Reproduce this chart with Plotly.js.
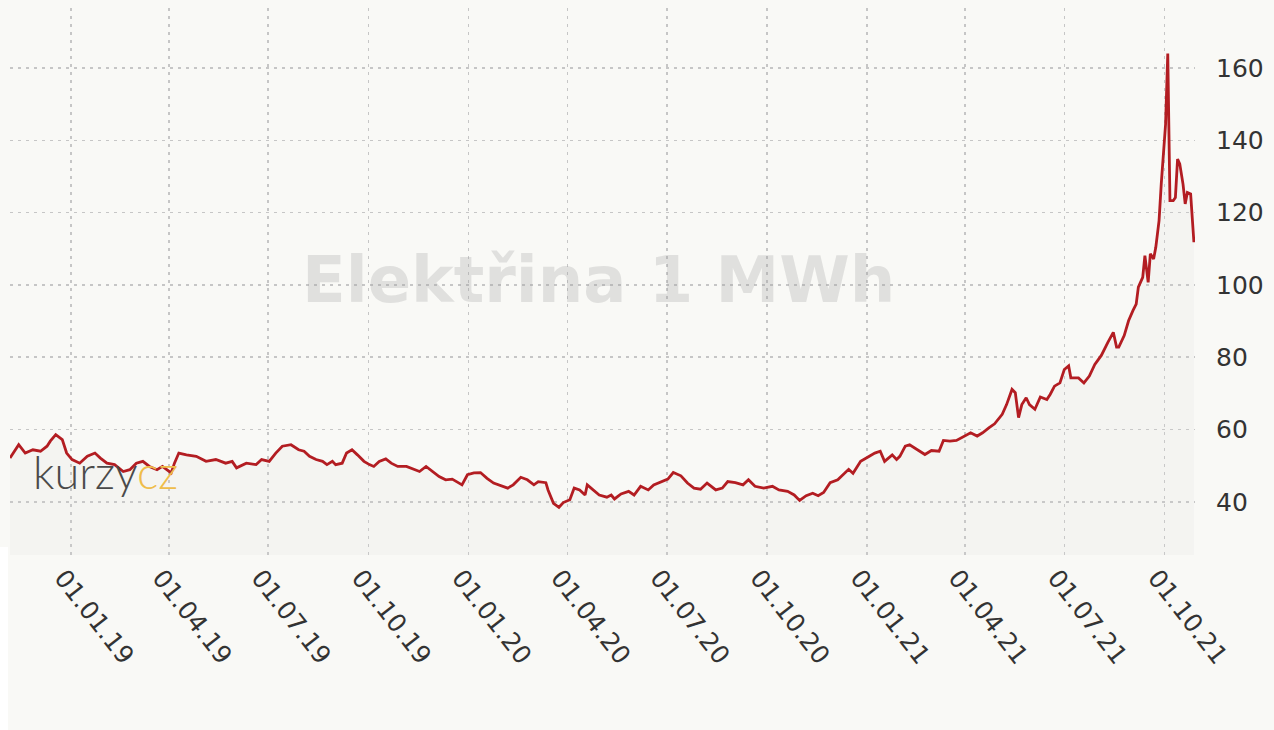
<!DOCTYPE html>
<html>
<head>
<meta charset="utf-8">
<script src="https://cdn.plot.ly/plotly-3.0.1.min.js"></script>
<style>
html,body{margin:0;padding:0;background:#f9f9f6;}
#chart{width:1274px;height:730px;}
</style>
</head>
<body>
<div id="chart"></div>
<script>
const dates = [
"2018-11-06","2018-11-14","2018-11-20","2018-11-27","2018-12-04","2018-12-10","2018-12-13","2018-12-18","2018-12-24","2018-12-28",
"2019-01-02","2019-01-09","2019-01-16","2019-01-23","2019-01-28","2019-02-03","2019-02-10","2019-02-18","2019-02-24","2019-03-02",
"2019-03-08","2019-03-14","2019-03-21","2019-03-26","2019-04-03","2019-04-06","2019-04-10","2019-04-17","2019-04-26","2019-05-05",
"2019-05-14","2019-05-23","2019-05-29","2019-06-02","2019-06-11","2019-06-20","2019-06-25","2019-07-02","2019-07-08","2019-07-14",
"2019-07-22","2019-07-29","2019-08-03","2019-08-08","2019-08-14","2019-08-20","2019-08-24","2019-08-29","2019-09-01","2019-09-07",
"2019-09-11","2019-09-16","2019-09-21","2019-09-27","2019-10-02","2019-10-06","2019-10-11","2019-10-17","2019-10-22","2019-10-28",
"2019-11-05","2019-11-12","2019-11-17","2019-11-23","2019-11-29","2019-12-05","2019-12-11","2019-12-17","2019-12-21","2019-12-26",
"2019-12-31","2020-01-06","2020-01-12","2020-01-18","2020-01-24","2020-02-01","2020-02-06","2020-02-11","2020-02-18","2020-02-24",
"2020-03-01","2020-03-05","2020-03-12","2020-03-14","2020-03-19","2020-03-24","2020-03-28","2020-04-03","2020-04-07","2020-04-12",
"2020-04-17","2020-04-19","2020-04-25","2020-04-30","2020-05-07","2020-05-11","2020-05-14","2020-05-20","2020-05-27","2020-06-01",
"2020-06-07","2020-06-14","2020-06-19","2020-06-26","2020-07-02","2020-07-07","2020-07-14","2020-07-20","2020-07-26","2020-08-01",
"2020-08-07","2020-08-15","2020-08-21","2020-08-26","2020-09-02","2020-09-09","2020-09-14","2020-09-20","2020-09-28","2020-10-06",
"2020-10-12","2020-10-20","2020-10-26","2020-10-31","2020-11-06","2020-11-12","2020-11-17","2020-11-22","2020-11-28","2020-12-05",
"2020-12-10","2020-12-15","2020-12-19","2020-12-26","2021-01-03","2021-01-08","2021-01-13","2021-01-17","2021-01-24","2021-01-28",
"2021-01-31","2021-02-05","2021-02-09","2021-02-16","2021-02-23","2021-03-01","2021-03-08","2021-03-12","2021-03-18","2021-03-24",
"2021-03-30","2021-04-06","2021-04-12","2021-04-17","2021-04-23","2021-04-28","2021-05-05","2021-05-09","2021-05-14","2021-05-17",
"2021-05-20","2021-05-23","2021-05-27","2021-05-30","2021-06-04","2021-06-09","2021-06-15","2021-06-18","2021-06-22","2021-06-27",
"2021-07-01","2021-07-05","2021-07-07","2021-07-14","2021-07-19","2021-07-24","2021-07-29","2021-08-04","2021-08-10","2021-08-15",
"2021-08-18","2021-08-20","2021-08-25","2021-08-29","2021-09-02","2021-09-05","2021-09-07","2021-09-11","2021-09-13","2021-09-16",
"2021-09-18","2021-09-21","2021-09-23","2021-09-26","2021-09-28","2021-09-30","2021-10-02","2021-10-04","2021-10-05","2021-10-06",
"2021-10-09","2021-10-11","2021-10-13","2021-10-15","2021-10-18","2021-10-20","2021-10-22","2021-10-25","2021-10-28"
];
const prices = [
52.1,55.8,53.5,54.4,54.0,55.4,56.8,58.6,57.2,53.5,
51.7,50.7,52.6,53.5,52.1,50.7,50.3,48.4,48.9,50.7,
51.2,49.8,48.9,49.8,48.0,50.7,53.5,53.0,52.6,51.2,
51.7,50.7,51.2,49.4,50.7,50.3,51.7,51.2,53.5,55.4,
55.8,54.4,54.0,52.6,51.7,51.2,50.3,51.2,50.3,50.7,
53.5,54.4,53.0,51.2,50.3,49.8,51.2,51.9,50.7,49.8,
49.8,48.9,48.4,49.8,48.4,47.0,46.1,46.3,45.6,44.7,
47.5,48.0,48.1,46.5,45.2,44.3,43.8,44.7,46.8,46.1,
44.7,45.6,45.3,43.3,39.6,38.5,39.8,40.6,43.8,43.3,
41.9,44.7,43.3,41.9,41.3,41.9,40.8,42.2,42.9,41.9,
44.3,43.3,44.7,45.6,46.3,48.1,47.2,45.2,43.8,43.5,
45.2,43.3,43.8,45.6,45.3,44.7,46.1,44.3,43.8,44.3,
43.3,42.9,41.9,40.4,41.7,42.4,41.7,42.6,45.3,46.1,
47.5,49.0,47.9,51.2,52.6,53.5,54.0,51.2,53.0,51.7,
52.6,55.4,55.8,54.5,53.1,54.2,54.0,57.0,56.8,57.0,
57.9,59.1,58.2,59.1,60.5,61.6,64.2,66.9,71.1,70.2,
63.3,66.9,68.8,66.9,65.6,69.0,68.3,69.7,72.0,72.9,
76.6,77.6,74.3,74.3,72.9,74.8,78.0,80.5,84.1,86.9,
82.8,82.8,86.0,90.1,92.9,94.7,99.4,102.1,108.1,100.7,
108.6,107.2,110.4,117.8,127.9,137.1,144.5,164.0,142.7,123.3,
123.3,124.2,134.8,133.5,127.9,122.4,125.6,125.2,111.8
];
const tickDates = ["2019-01-01","2019-04-01","2019-07-01","2019-10-01","2020-01-01","2020-04-01","2020-07-01","2020-10-01","2021-01-01","2021-04-01","2021-07-01","2021-10-01"];
const tickLabels = ["01.01.19","01.04.19","01.07.19","01.10.19","01.01.20","01.04.20","01.07.20","01.10.20","01.01.21","01.04.21","01.07.21","01.10.21"];
const yTicks = [40,60,80,100,120,140,160];
const chartTitle = "Elektřina 1 MWh";

const trace = {
  x: dates, y: prices, type: 'scatter', mode: 'lines',
  line: {color: '#b31d22', width: 2.8},
  fill: 'tozeroy', fillcolor: 'rgba(215,215,215,0.15)',
  hoverinfo: 'skip'
};

const layout = {
  width: 1274, height: 730,
  margin: {l: 10, r: 79, t: 8, b: 175},
  paper_bgcolor: '#f9f9f6', plot_bgcolor: '#f9f9f6',
  showlegend: false,
  font: {family: 'DejaVu Sans, Verdana, sans-serif', color: '#333'},
  xaxis: {
    type: 'date', range: ['2018-11-06', '2021-10-29'],
    tickvals: tickDates, ticktext: tickLabels, tickangle: 52,
    tickfont: {size: 25, color: '#333'},
    showgrid: true, gridcolor: '#c6c6c6', gridwidth: 1.6, griddash: '3px,5px',
    zeroline: false, showline: false, ticks: '',
    ticklabelstandoff: 2, ticklabelshift: -8
  },
  yaxis: {
    side: 'right', range: [25.3, 176.6],
    tickvals: yTicks, tickfont: {size: 25, color: '#333'},
    showgrid: true, gridcolor: '#c6c6c6', gridwidth: 1.6, griddash: '3px,5px',
    zeroline: false, showline: false, ticks: '',
    ticklabelstandoff: 20
  },
  shapes: [
    {type: 'rect', xref: 'paper', yref: 'paper', x0: -10/1185, x1: -2/1185, y0: -175/547, y1: 8/547,
     fillcolor: '#ffffff', line: {width: 0}, layer: 'below'}
  ],
  annotations: [
    {text: '<b>' + chartTitle + '</b>', xref: 'paper', yref: 'paper', x: 0.497, y: 0.503,
     xanchor: 'center', yanchor: 'middle', showarrow: false,
     font: {family: 'DejaVu Sans, Verdana, sans-serif', size: 64, color: 'rgba(160,160,160,0.27)'}},
    {text: 'kurzy<span style="color:#efbd4a">cz</span>', xref: 'paper', yref: 'paper',
     x: 0.018, y: 0.152, xanchor: 'left', yanchor: 'middle', showarrow: false,
     font: {family: 'Lato, sans-serif', size: 45, color: '#4a4a4a', weight: 300}}
  ]
};

Plotly.newPlot('chart', [trace], layout, {displayModeBar: false, staticPlot: true});
</script>
</body>
</html>
